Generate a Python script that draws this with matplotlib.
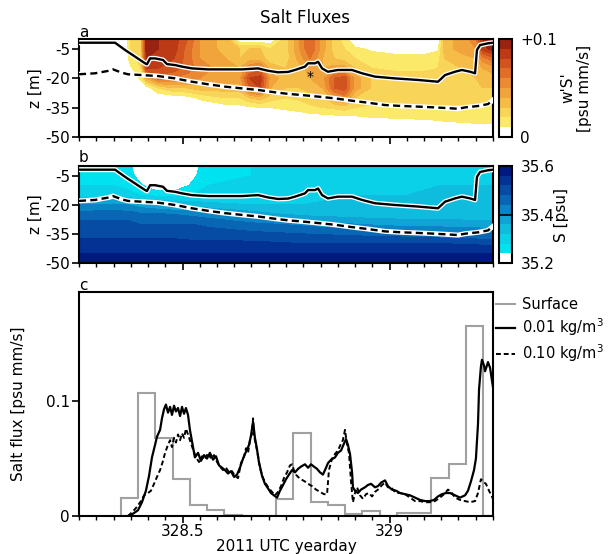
import numpy as np
import matplotlib.pyplot as plt
from matplotlib import patheffects as pe
from matplotlib.ticker import MultipleLocator, FixedLocator

plt.rcParams['font.family'] = ['DejaVu Sans']
plt.rcParams['mathtext.fontset'] = 'dejavusans'

# all times are hours after yearday 328.25 (06 UTC)
T0 = 328.25

# --- interface depths (panels a, b) ---
iso01_hrs = [0, 2.09, 2.67, 3.25, 3.83, 3.94, 4.12, 4.41, 4.87, 5.10, 5.57, 5.97, 6.55, 7.48,
             8.46, 9.45, 10.38, 10.96, 11.54, 12.12, 12.52, 13.10, 13.28, 13.68, 13.86, 14.09,
             14.43, 15.01, 15.83, 16.41, 17.16, 18.32, 19.65, 20.81, 21.22, 21.80, 22.20, 22.67,
             22.96, 23.07, 23.25, 23.71, 24.0]
iso01_z = [-1.9, -1.9, -5.6, -9.0, -12.4, -12.9, -9.9, -9.9, -10.7, -12.8, -13.3, -14.1, -15.0,
           -15.5, -15.5, -15.5, -15.0, -16.2, -17.0, -16.8, -15.8, -14.1, -12.4, -12.4, -11.6,
           -15.0, -16.7, -15.8, -15.8, -17.5, -19.2, -20.1, -20.9, -21.8, -18.4, -16.7, -15.8,
           -16.7, -17.5, -5.6, -3.1, -2.2, -1.9]

iso10_hrs = [0, 0.93, 1.68, 1.97, 2.49, 2.84, 3.65, 4.58, 5.57, 6.55, 7.48, 8.46, 9.45, 10.38,
             11.36, 12.12, 12.93, 13.86, 14.84, 15.83, 16.75, 17.74, 18.72, 19.65, 20.64, 21.62,
             21.97, 22.38, 23.13, 23.71, 24.0]
iso10_z = [-18.0, -17.5, -16.3, -15.5, -17.2, -18.0, -18.4, -18.9, -20.1, -21.8, -23.1, -24.3,
           -25.2, -26.0, -27.2, -28.0, -28.6, -29.4, -30.3, -31.5, -32.5, -33.7, -34.2, -34.5,
           -34.9, -35.4, -35.6, -34.9, -34.2, -33.2, -31.1]

# --- gridded fields ---
depths = [0, -5, -10, -15, -20, -25, -30, -35, -40, -45, -50]

flux_hrs = [0, 2.6, 3.0, 3.6, 3.9, 4.6, 5.5, 6.3, 7.0, 8.5, 9.3, 9.9, 10.5, 11.1, 12.0, 12.8,
            13.4, 14.1, 14.8, 15.4, 16.0, 17.0, 18.5, 20.0, 20.8, 21.2, 22.2, 23.0, 23.4, 24.0]
flux_cols = [
    [0, 0, 0, 0, 0, 0, 0, 0, 0, 0, 0],
    [0, 0, 0, 0, 0, 0, 0, 0, 0, 0, 0],
    [0.02, 0.02, 0.015, 0.008, 0.004, 0, 0, 0, 0, 0, 0],
    [0.03, 0.03, 0.025, 0.02, 0.012, 0.003, 0, 0, 0, 0, 0],
    [0.095, 0.095, 0.09, 0.08, 0.04, 0.004, 0, 0, 0, 0, 0],
    [0.09, 0.09, 0.085, 0.08, 0.065, 0.02, 0.002, 0, 0, 0, 0],
    [0.085, 0.085, 0.08, 0.075, 0.06, 0.03, 0.003, 0, 0, 0, 0],
    [0.07, 0.065, 0.065, 0.065, 0.055, 0.03, 0.006, 0, 0, 0, 0],
    [0.05, 0.05, 0.05, 0.055, 0.05, 0.035, 0.012, 0.002, 0, 0, 0],
    [0.035, 0.035, 0.04, 0.045, 0.045, 0.035, 0.02, 0.005, 0, 0, 0],
    [0, 0.03, 0.03, 0.04, 0.045, 0.035, 0.02, 0.006, 0, 0, 0],
    [0, 0.03, 0.035, 0.06, 0.08, 0.07, 0.03, 0.008, 0, 0, 0],
    [0, 0.03, 0.035, 0.065, 0.085, 0.08, 0.035, 0.009, 0, 0, 0],
    [0, 0.02, 0.025, 0.035, 0.045, 0.04, 0.025, 0.01, 0.001, 0, 0],
    [0.025, 0.025, 0.025, 0.03, 0.035, 0.03, 0.02, 0.012, 0.003, 0, 0],
    [0.05, 0.05, 0.045, 0.035, 0.035, 0.03, 0.022, 0.014, 0.004, 0, 0],
    [0.07, 0.07, 0.06, 0.045, 0.04, 0.035, 0.025, 0.018, 0.005, 0, 0],
    [0.045, 0.045, 0.04, 0.04, 0.045, 0.04, 0.025, 0.02, 0.005, 0, 0],
    [0.025, 0.025, 0.03, 0.045, 0.07, 0.07, 0.045, 0.022, 0.006, 0, 0],
    [0.015, 0.02, 0.025, 0.045, 0.075, 0.075, 0.055, 0.025, 0.007, 0, 0],
    [0, 0.012, 0.02, 0.03, 0.045, 0.045, 0.03, 0.02, 0.008, 0, 0],
    [0, 0.008, 0.015, 0.02, 0.028, 0.028, 0.025, 0.018, 0.01, 0, 0],
    [0, 0.004, 0.014, 0.018, 0.024, 0.028, 0.025, 0.018, 0.011, 0.001, 0],
    [0, 0.004, 0.014, 0.018, 0.024, 0.028, 0.025, 0.018, 0.012, 0.002, 0],
    [0, 0.008, 0.016, 0.02, 0.026, 0.028, 0.025, 0.018, 0.013, 0.003, 0],
    [0.035, 0.035, 0.03, 0.028, 0.026, 0.028, 0.025, 0.018, 0.014, 0.004, 0],
    [0.045, 0.045, 0.035, 0.03, 0.028, 0.028, 0.025, 0.018, 0.015, 0.005, 0],
    [0.055, 0.05, 0.04, 0.032, 0.03, 0.028, 0.025, 0.018, 0.016, 0.006, 0],
    [0.09, 0.085, 0.055, 0.04, 0.032, 0.03, 0.025, 0.018, 0.016, 0.006, 0],
    [0.1, 0.095, 0.065, 0.045, 0.035, 0.03, 0.025, 0.018, 0.016, 0.006, 0],
]

sal_hrs = [0, 2.0, 2.9, 3.5, 4.5, 5.5, 6.6, 7.5, 10, 13, 16, 19, 21, 24]
sal_cols = [
    [35.27, 35.27, 35.28, 35.29, 35.40, 35.46, 35.49, 35.51, 35.53, 35.56, 35.59],
    [35.27, 35.27, 35.28, 35.29, 35.41, 35.46, 35.49, 35.51, 35.53, 35.56, 35.59],
    [35.25, 35.26, 35.27, 35.29, 35.40, 35.46, 35.49, 35.51, 35.53, 35.56, 35.59],
    [35.21, 35.22, 35.25, 35.28, 35.38, 35.45, 35.48, 35.51, 35.53, 35.56, 35.59],
    [35.20, 35.20, 35.20, 35.27, 35.36, 35.45, 35.48, 35.51, 35.53, 35.56, 35.59],
    [35.20, 35.20, 35.20, 35.27, 35.35, 35.44, 35.48, 35.51, 35.53, 35.56, 35.59],
    [35.22, 35.23, 35.25, 35.28, 35.34, 35.43, 35.48, 35.50, 35.53, 35.56, 35.59],
    [35.27, 35.27, 35.28, 35.29, 35.33, 35.42, 35.47, 35.50, 35.53, 35.56, 35.59],
    [35.28, 35.28, 35.29, 35.30, 35.32, 35.38, 35.45, 35.49, 35.53, 35.56, 35.59],
    [35.29, 35.29, 35.30, 35.31, 35.32, 35.35, 35.43, 35.48, 35.52, 35.56, 35.59],
    [35.30, 35.30, 35.31, 35.32, 35.33, 35.34, 35.40, 35.47, 35.52, 35.56, 35.59],
    [35.31, 35.31, 35.32, 35.32, 35.33, 35.34, 35.38, 35.46, 35.52, 35.56, 35.59],
    [35.31, 35.31, 35.32, 35.33, 35.33, 35.34, 35.38, 35.45, 35.52, 35.56, 35.59],
    [35.32, 35.32, 35.32, 35.33, 35.33, 35.34, 35.37, 35.44, 35.51, 35.56, 35.59],
]

# --- panel c series ---
surf_edges_hrs = [2.43, 3.43, 4.43, 5.43, 6.43, 7.43, 8.43, 9.43, 10.43, 11.43, 12.43, 13.43,
                  14.43, 15.43, 16.43, 17.43, 18.43, 19.43, 20.43, 21.43, 22.43, 23.43, 24.43]
surf_flux = [0.016, 0.107, 0.068, 0.032, 0.010, 0.005, 0.001, 0.0, 0.0, 0.015, 0.072, 0.012,
             0.010, 0.002, 0.004, 0.0, 0.003, 0.003, 0.033, 0.045, 0.165, 0.0]

f01_hrs = [2.84, 3.13, 3.42, 3.65, 3.88, 4.06, 4.23, 4.41, 4.52, 4.70, 4.81, 4.93, 5.04, 5.16,
           5.28, 5.39, 5.51, 5.62, 5.74, 5.86, 5.97, 6.09, 6.20, 6.32, 6.43, 6.61, 6.72, 6.90,
           7.07, 7.25, 7.42, 7.59, 7.77, 7.94, 8.12, 8.29, 8.46, 8.64, 8.81, 8.99, 9.16, 9.33,
           9.51, 9.68, 9.86, 9.97, 10.09, 10.20, 10.32, 10.43, 10.61, 10.78, 10.96, 11.13,
           11.30, 11.48, 11.65, 11.83, 12.00, 12.17, 12.35, 12.52, 12.70, 12.87, 13.10, 13.28,
           13.45, 13.62, 13.80, 13.97, 14.14, 14.32, 14.43, 14.61, 14.84, 15.01, 15.19, 15.36,
           15.48, 15.59, 15.71, 15.83, 15.88, 16.00, 16.17, 16.35, 16.58, 16.75, 16.93, 17.16,
           17.33, 17.51, 17.74, 17.91, 18.14, 18.38, 18.61, 18.90, 19.19, 19.48, 19.77, 20.06,
           20.35, 20.58, 20.81, 21.04, 21.28, 21.51, 21.80, 22.09, 22.38, 22.55, 22.72, 22.90,
           23.01, 23.13, 23.19, 23.30, 23.36, 23.48, 23.54, 23.65, 23.71, 23.83, 23.94, 24.00]
f01_flux = [0.0, 0.002, 0.005, 0.012, 0.022, 0.035, 0.051, 0.062, 0.069, 0.075, 0.085, 0.093,
            0.097, 0.090, 0.095, 0.088, 0.096, 0.091, 0.094, 0.087, 0.095, 0.089, 0.094, 0.088,
            0.075, 0.060, 0.051, 0.055, 0.048, 0.053, 0.050, 0.055, 0.049, 0.052, 0.044, 0.042,
            0.040, 0.037, 0.039, 0.034, 0.036, 0.042, 0.050, 0.056, 0.062, 0.070, 0.082, 0.068,
            0.058, 0.047, 0.035, 0.028, 0.024, 0.020, 0.018, 0.016, 0.022, 0.027, 0.032, 0.036,
            0.040, 0.038, 0.041, 0.043, 0.045, 0.042, 0.045, 0.043, 0.041, 0.038, 0.036, 0.042,
            0.046, 0.049, 0.051, 0.055, 0.057, 0.063, 0.067, 0.062, 0.054, 0.038, 0.025, 0.022,
            0.020, 0.023, 0.025, 0.027, 0.028, 0.025, 0.026, 0.029, 0.031, 0.026, 0.023, 0.022,
            0.020, 0.019, 0.018, 0.016, 0.014, 0.013, 0.013, 0.014, 0.017, 0.019, 0.020, 0.020,
            0.018, 0.016, 0.018, 0.022, 0.030, 0.040, 0.050, 0.080, 0.110, 0.130, 0.136, 0.131,
            0.126, 0.131, 0.134, 0.129, 0.118, 0.112]

f10_hrs = [2.84, 3.13, 3.36, 3.59, 3.77, 4.00, 4.17, 4.35, 4.52, 4.70, 4.87, 4.99, 5.16, 5.28,
           5.39, 5.51, 5.62, 5.74, 5.86, 5.97, 6.09, 6.20, 6.32, 6.43, 6.61, 6.78, 6.96, 7.13,
           7.30, 7.48, 7.65, 7.83, 8.00, 8.17, 8.35, 8.52, 8.70, 8.87, 9.04, 9.22, 9.39, 9.57,
           9.68, 9.80, 9.91, 10.03, 10.09, 10.14, 10.26, 10.38, 10.49, 10.67, 10.84, 11.01,
           11.19, 11.36, 11.54, 11.71, 11.88, 12.06, 12.23, 12.35, 12.46, 12.58, 12.70, 12.87,
           13.10, 13.28, 13.51, 13.74, 13.97, 14.20, 14.38, 14.49, 14.67, 14.84, 15.01, 15.19,
           15.30, 15.42, 15.54, 15.65, 15.77, 15.88, 16.00, 16.12, 16.29, 16.46, 16.64, 16.81,
           16.99, 17.16, 17.33, 17.57, 17.74, 17.91, 18.14, 18.38, 18.61, 18.90, 19.19, 19.48,
           19.77, 20.06, 20.35, 20.64, 20.93, 21.16, 21.39, 21.57, 21.80, 22.09, 22.38, 22.67,
           22.96, 23.13, 23.30, 23.42, 23.59, 23.77, 24.00]
f10_flux = [0.0, 0.004, 0.008, 0.013, 0.018, 0.020, 0.022, 0.028, 0.034, 0.040, 0.048, 0.055,
            0.062, 0.066, 0.060, 0.068, 0.064, 0.071, 0.066, 0.072, 0.068, 0.076, 0.071, 0.066,
            0.058, 0.051, 0.047, 0.052, 0.049, 0.055, 0.050, 0.053, 0.047, 0.043, 0.040, 0.042,
            0.038, 0.039, 0.035, 0.033, 0.046, 0.052, 0.059, 0.055, 0.066, 0.072, 0.085, 0.070,
            0.062, 0.052, 0.042, 0.033, 0.028, 0.024, 0.021, 0.018, 0.021, 0.026, 0.033, 0.038,
            0.044, 0.045, 0.040, 0.036, 0.034, 0.032, 0.030, 0.028, 0.026, 0.023, 0.021, 0.019,
            0.019, 0.040, 0.050, 0.054, 0.057, 0.063, 0.066, 0.075, 0.062, 0.055, 0.030, 0.012,
            0.020, 0.025, 0.018, 0.015, 0.019, 0.020, 0.017, 0.021, 0.023, 0.027, 0.029, 0.025,
            0.024, 0.020, 0.020, 0.019, 0.016, 0.013, 0.013, 0.012, 0.012, 0.013, 0.016, 0.019,
            0.023, 0.021, 0.016, 0.014, 0.013, 0.012, 0.013, 0.020, 0.032, 0.030, 0.028, 0.022,
            0.015]


def yday(hrs):
    return T0 + np.asarray(hrs) / 24.0


flux_levels = np.linspace(0, 0.1, 11)
flux_colors = ['white', '#fbe96a', '#f8d458', '#f5bd48', '#f1a33c', '#ea8a32',
               '#e06e28', '#d1541f', '#bd3a17', '#9a2210']
sal_levels = np.linspace(35.2, 35.6, 11)
sal_colors = ['white', '#00e2f0', '#0ad0e8', '#10bcde', '#10a4d6', '#0a84c4',
              '#0866b4', '#064ca4', '#043294', '#021a80']

fig = plt.figure(figsize=(6.12, 5.54), dpi=100)
W, H = 612, 554


def box(x0, y0, x1, y1):
    return [x0 / W, 1 - y1 / H, (x1 - x0) / W, (y1 - y0) / H]


ax_a = fig.add_axes(box(79, 39, 493, 137))
ax_b = fig.add_axes(box(79, 166, 493, 263))
ax_c = fig.add_axes(box(79, 292, 493, 516))
cax_a = fig.add_axes(box(499, 39, 512, 137))
cax_b = fig.add_axes(box(499, 166, 512, 263))

fs = 11

cf_a = ax_a.contourf(yday(flux_hrs), depths, np.array(flux_cols).T,
                     levels=flux_levels, colors=flux_colors)
cf_b = ax_b.contourf(yday(sal_hrs), depths, np.array(sal_cols).T,
                     levels=sal_levels, colors=sal_colors)

halo = [pe.withStroke(linewidth=3.6, foreground='white')]
for ax in (ax_a, ax_b):
    ax.plot(yday(iso01_hrs), iso01_z, color='black', lw=1.7, path_effects=halo, zorder=4)
    ax.plot(yday(iso10_hrs), iso10_z, color='white', lw=3.6, zorder=4)
    ax.plot(yday(iso10_hrs), iso10_z, color='black', lw=1.7, dashes=(3, 1.8), zorder=5)
    ax.set_ylim(-50, 0)
    ax.set_yticks([-5, -20, -35, -50])
    ax.set_yticklabels(['-5', '-20', '-35', '-50'])
    ax.set_ylabel('z [m]', fontsize=fs, labelpad=2)

ax_a.text(yday(13.39), -19.2, '*', ha='center', va='center', fontsize=10)

ax_c.stairs(surf_flux, yday(surf_edges_hrs), color='#a0a0a0', lw=1.5, label='Surface')
ax_c.plot(yday(f01_hrs), f01_flux, color='black', lw=1.6, label='0.01 kg/m$^3$')
ax_c.plot(yday(f10_hrs), f10_flux, color='black', lw=1.4, dashes=(2.5, 1.5),
          label='0.10 kg/m$^3$')
ax_c.set_ylim(0, 0.195)
ax_c.set_yticks([0, 0.1])
ax_c.set_yticklabels(['0', '0.1'])
ax_c.set_ylabel('Salt flux [psu mm/s]', fontsize=fs, labelpad=14)
ax_c.set_xlabel('2011 UTC yearday', fontsize=fs, labelpad=0)
ax_c.legend(loc='upper left', bbox_to_anchor=(1.0, 0.99), frameon=False, fontsize=10.5,
            handlelength=1.3, handletextpad=0.5, labelspacing=0.3, borderpad=0.1,
            borderaxespad=0.1)

for ax in (ax_a, ax_b, ax_c):
    ax.set_xlim(328.25, 329.25)
    ax.xaxis.set_major_locator(FixedLocator([328.5, 329.0]))
    ax.xaxis.set_minor_locator(MultipleLocator(1 / 24))
    ax.set_xticklabels(['328.5', '329'])
    ax.tick_params(axis='both', which='major', direction='out', length=5, width=1.2,
                   labelsize=fs, pad=1.5)
    ax.tick_params(axis='x', which='minor', direction='out', length=3, width=1)
    for s in ax.spines.values():
        s.set_linewidth(1.5)
ax_a.tick_params(labelbottom=False)
ax_b.tick_params(labelbottom=False)
ax_c.tick_params(axis='x', pad=0.5)

cb_a = fig.colorbar(cf_a, cax=cax_a, ticks=[0, 0.1])
cb_a.ax.set_yticklabels(['0', '+0.1'])
cb_b = fig.colorbar(cf_b, cax=cax_b, ticks=[35.2, 35.4, 35.6])
cb_b.ax.set_yticklabels(['35.2', '35.4', '35.6'])
for cb in (cb_a, cb_b):
    cb.outline.set_linewidth(1.5)
    cb.ax.tick_params(direction='in', length=9.5, width=1.2, labelsize=fs, pad=6)
cb_a.set_label("w'S'\n[psu mm/s]", fontsize=fs, rotation=90, labelpad=2)
cb_b.set_label('S [psu]', fontsize=fs, rotation=90, labelpad=0)

fig.text(305 / W, 1 - 18 / H, 'Salt Fluxes', ha='center', va='center', fontsize=12)
fig.text(79 / W, 1 - 37 / H, 'a', ha='left', va='baseline', fontsize=fs)
fig.text(79 / W, 1 - 162 / H, 'b', ha='left', va='baseline', fontsize=fs)
fig.text(79 / W, 1 - 290 / H, 'c', ha='left', va='baseline', fontsize=fs)

fig.savefig('out.png', dpi=100)
